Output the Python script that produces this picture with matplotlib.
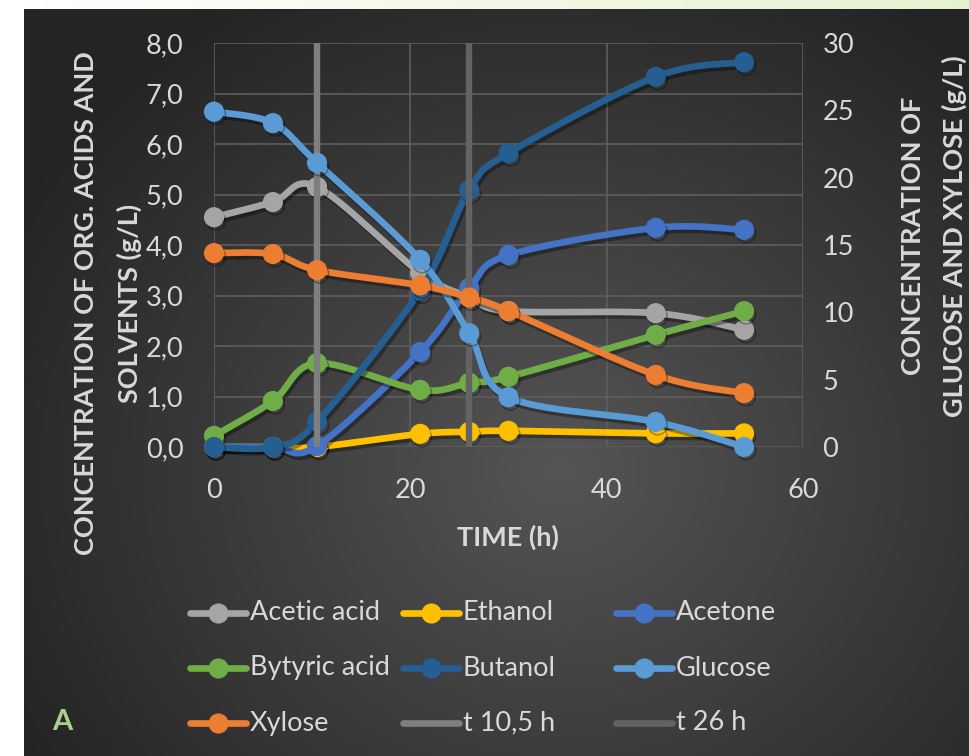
import numpy as np
import matplotlib
matplotlib.use("Agg")
import matplotlib.pyplot as plt
from matplotlib.lines import Line2D
import matplotlib.patheffects as pe

plt.rcParams['font.family'] = ['Lato', 'DejaVu Sans']

# ---------------- data ----------------
time = [0, 6, 10.5, 21, 26, 30, 45, 54]
acetic = [4.55, 4.85, 5.15, 3.45, 2.97, 2.69, 2.65, 2.32]
ethanol = [0.0, 0.0, 0.0, 0.26, 0.30, 0.32, 0.27, 0.27]
acetone = [0.0, 0.0, 0.02, 1.88, 3.15, 3.80, 4.34, 4.30]
butyric = [0.22, 0.91, 1.66, 1.13, 1.27, 1.39, 2.22, 2.69]
butanol = [0.0, 0.0, 0.50, 3.10, 5.09, 5.82, 7.33, 7.62]
glucose = [24.9, 24.05, 21.1, 13.9, 8.45, 3.7, 1.86, 0.0]
xylose = [14.4, 14.33, 13.14, 12.0, 11.1, 10.1, 5.35, 4.0]
t_marks = [10.5, 26]
left_ticks = [0, 1, 2, 3, 4, 5, 6, 7, 8]
right_ticks = [0, 5, 10, 15, 20, 25, 30]
x_ticks = [0, 20, 40, 60]
legend_labels = ['Acetic acid', 'Ethanol', 'Acetone',
                 'Bytyric acid', 'Butanol', 'Glucose',
                 'Xylose', 't 10,5 h', 't 26 h']

C_ACETIC = '#a5a5a5'
C_ETH = '#ffc000'
C_ACETONE = '#4472c4'
C_BUTYRIC = '#70ad47'
C_BUTANOL = '#255e91'
C_GLUCOSE = '#5b9bd5'
C_XYLOSE = '#ed7d31'
C_T1 = '#7f7f7f'
C_T2 = '#636363'
TXT = '#d9d9d9'

W, H = 970, 756
fig = plt.figure(figsize=(W / 100, H / 100), dpi=100)
fig.patch.set_facecolor('white')

# ---------------- background ----------------
bg = fig.add_axes([0, 0, 1, 1], zorder=-10)
bg.set_axis_off()
yy, xx = np.mgrid[0:H, 0:W]
cx, cy = 560, 470
r = np.sqrt(((xx - cx) / 620.0) ** 2 + ((yy - cy) / 560.0) ** 2)
r = np.clip(r, 0, 1)
c0 = np.array([0x55, 0x55, 0x55]) / 255
c1 = np.array([0x24, 0x24, 0x24]) / 255
img = c0[None, None, :] * (1 - r[..., None]) + c1[None, None, :] * r[..., None]
img[:, :24, :] = 1.0
tb = np.linspace(0, 1, W)
top = np.stack([1 - 0.10 * tb, 1 - 0.05 * tb, 1 - 0.18 * tb], axis=-1)
img[:9, :, :] = top[None, :, :]
img[:9, :24, :] = 1.0
bg.imshow(img, extent=[0, 1, 0, 1], aspect='auto', origin='upper')
bg.set_xlim(0, 1)
bg.set_ylim(0, 1)

# ---------------- axes ----------------
L, R, B, T = 214 / W, 803 / W, 1 - 447 / H, 1 - 43 / H
ax = fig.add_axes([L, B, R - L, T - B])
ax.patch.set_alpha(0)
ax2 = ax.twinx()
ax2.patch.set_alpha(0)
ax.set_xlim(0, 60)
ax.set_ylim(0, 8)
ax2.set_ylim(0, 30)
ax.set_xticks(x_ticks)
ax.set_yticks(left_ticks)
ax2.set_yticks(right_ticks)
ax.set_yticklabels([f"{v:.1f}".replace('.', ',') for v in left_ticks])
ax2.set_yticklabels([str(v) for v in right_ticks])
ax.set_xticklabels([str(v) for v in x_ticks])
for a in (ax, ax2):
    for s in a.spines.values():
        s.set_visible(False)
    a.tick_params(length=0, colors=TXT, labelsize=19.5)
ax.tick_params(axis='y', pad=22)
ax2.tick_params(axis='y', pad=14)
ax.tick_params(axis='x', pad=22)
ax.grid(True, color='#5e5e5e', lw=1.2, zorder=0)
ax.set_axisbelow(True)

axw = (R - L) * W
axh = (T - B) * H


def smooth(xs, ys, ymax, n=30):
    px = np.array(xs, float) / 60 * axw
    py = np.array(ys, float) / ymax * axh
    P = np.column_stack([px, py])
    out = [P[0]]
    for i in range(len(P) - 1):
        p0 = P[i - 1] if i > 0 else P[i]
        p1 = P[i]
        p2 = P[i + 1]
        p3 = P[i + 2] if i + 2 < len(P) else P[i + 1]
        c1 = p1 + (p2 - p0) / 6
        c2 = p2 - (p3 - p1) / 6
        t = np.linspace(0, 1, n)[1:, None]
        seg = ((1 - t) ** 3) * p1 + 3 * ((1 - t) ** 2) * t * c1 + 3 * (1 - t) * t ** 2 * c2 + t ** 3 * p2
        out.extend(seg)
    out = np.array(out)
    return out[:, 0] / axw * 60, out[:, 1] / axh * ymax


shadow = [pe.SimpleLineShadow(offset=(1.5, -2.5), shadow_color='black', alpha=0.35), pe.Normal()]
LW = 4.8
MS = 13.5


def draw(a, ys, color, ymax, z):
    sx, sy = smooth(time, ys, ymax)
    a.plot(sx, sy, color=color, lw=LW, solid_capstyle='round', zorder=z,
           path_effects=shadow, clip_on=False)
    a.plot(time, ys, 'o', color=color, ms=MS, mec=color, zorder=z + 0.5,
           path_effects=shadow, clip_on=False)


draw(ax, acetic, C_ACETIC, 8, 3)
draw(ax, ethanol, C_ETH, 8, 4)
draw(ax, acetone, C_ACETONE, 8, 5)
draw(ax, butyric, C_BUTYRIC, 8, 6)
draw(ax, butanol, C_BUTANOL, 8, 7)
ax.plot([t_marks[0]] * 2, [0, 8], color=C_T1, lw=4.6, solid_capstyle='butt', zorder=8, clip_on=False)
ax.plot([t_marks[1]] * 2, [0, 8], color=C_T2, lw=4.6, solid_capstyle='butt', zorder=8, clip_on=False)
draw(ax2, glucose, C_GLUCOSE, 30, 3)
draw(ax2, xylose, C_XYLOSE, 30, 4)

# ---------------- labels ----------------
lab = dict(color=TXT, fontsize=19.5, fontweight='bold', rotation=90,
           ha='center', va='center')
fig.text(86 / W, 1 - 303 / H, "CONCENTRATION OF ORG. ACIDS AND", **lab)
fig.text(129 / W, 1 - 303 / H, "SOLVENTS (g/L)", **lab)
fig.text(913 / W, 1 - 236 / H, "CONCENTRATION OF", **lab)
fig.text(954 / W, 1 - 236 / H, "GLUCOSE AND XYLOSE (g/L)", **lab)
fig.text(508 / W, 1 - 537 / H, "TIME (h)", color=TXT, fontsize=19.5,
         fontweight='bold', ha='center', va='center')
fig.text(62 / W, 1 - 722 / H, "A", color='#a9d18e', fontsize=21,
         fontweight='bold', ha='center', va='center')

# ---------------- legend (Excel-style equal-width grid) ----------------
leg_colors = [C_ACETIC, C_ETH, C_ACETONE, C_BUTYRIC, C_BUTANOL, C_GLUCOSE,
              C_XYLOSE, C_T1, C_T2]
leg_marker = [True] * 7 + [False, False]
col_x = [190, 403, 616]
row_y = [613, 668, 723]
for i, (lbl, col, mk) in enumerate(zip(legend_labels, leg_colors, leg_marker)):
    cxp = col_x[i % 3]
    cyp = row_y[i // 3]
    x0, x1 = cxp / W, (cxp + 56) / W
    yf = 1 - cyp / H
    fig.add_artist(Line2D([x0, x1], [yf, yf], transform=fig.transFigure,
                          color=col, lw=LW, solid_capstyle='round'))
    if mk:
        fig.add_artist(Line2D([(x0 + x1) / 2], [yf], transform=fig.transFigure,
                              marker='o', ms=MS, color=col, mec=col, lw=0))
    fig.text((cxp + 60) / W, yf, lbl, color=TXT, fontsize=19.5,
             ha='left', va='center')

fig.savefig('out.png', dpi=100, facecolor=fig.get_facecolor())
